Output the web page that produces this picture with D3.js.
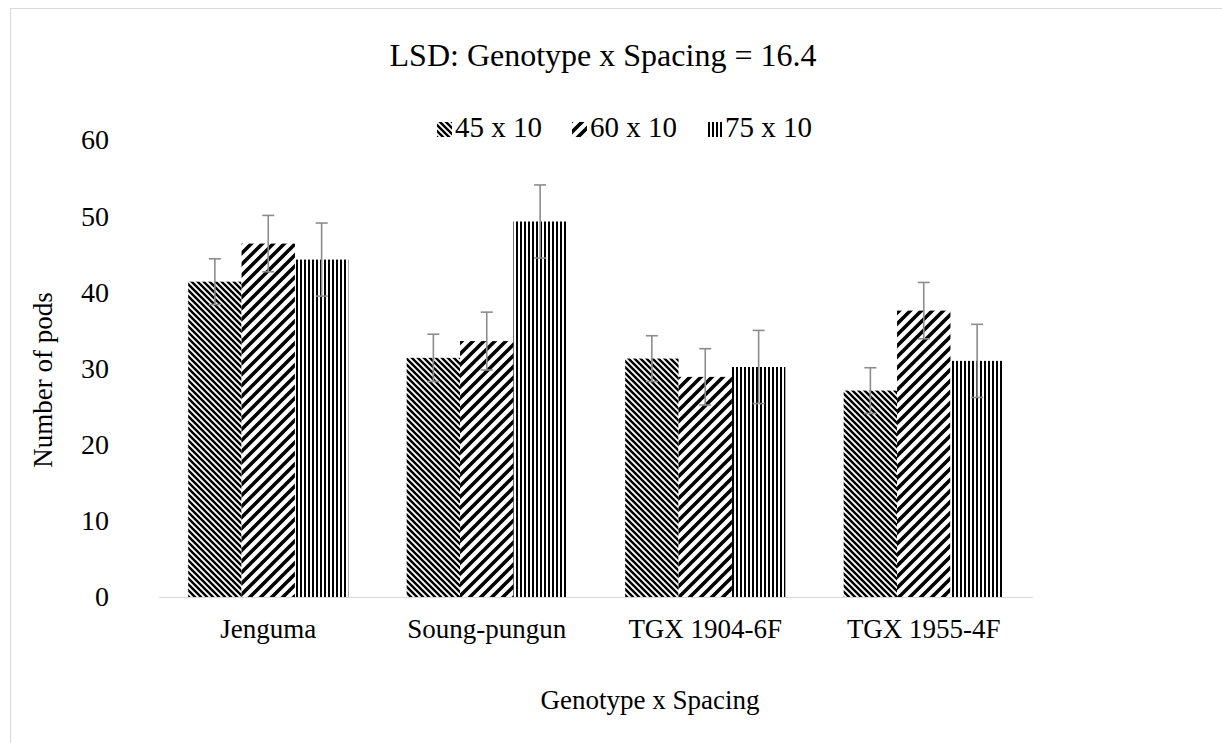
<!DOCTYPE html>
<html><head><meta charset="utf-8">
<script src="https://cdn.jsdelivr.net/npm/d3@7/dist/d3.min.js"></script>
<style>body{margin:0;background:#fff}svg{display:block}</style>
</head><body><svg id="c" width="1222" height="743"></svg>
<script>
const categories = ["Jenguma", "Soung-pungun", "TGX 1904-6F", "TGX 1955-4F"];
const seriesNames = ["45 x 10", "60 x 10", "75 x 10"];
const s45 = [41.4, 31.4, 31.3, 27.1];
const s60 = [46.4, 33.6, 28.9, 37.6];
const s75 = [44.3, 49.3, 30.2, 31.0];
const e45 = [3.0, 3.1, 3.0, 3.0];
const e60 = [3.7, 3.8, 3.7, 3.7];
const e75 = [4.8, 4.8, 4.8, 4.8];
const yTicks = [0, 10, 20, 30, 40, 50, 60];
const titleText = "LSD: Genotype x Spacing = 16.4";
const xTitle = "Genotype x Spacing";
const yTitle = "Number of pods";

const FF = "'Liberation Serif', 'Times New Roman', serif";
const values = [s45, s60, s75];
const errs = [e45, e60, e75];
const svg = d3.select("#c");
const defs = svg.append("defs");
const patIds = ["p45", "p60", "p75"];
let p = defs.append("pattern").attr("id","p45").attr("patternUnits","userSpaceOnUse").attr("width",6).attr("height",6);
p.append("rect").attr("width",6).attr("height",6).attr("fill","#fff");
p.append("path").attr("d","M-1,-1 L7,7 M-1,5 L1,7 M5,-1 L7,1").attr("stroke","#000").attr("stroke-width",2.4);
p = defs.append("pattern").attr("id","p60").attr("patternUnits","userSpaceOnUse").attr("width",11).attr("height",11);
p.append("rect").attr("width",11).attr("height",11).attr("fill","#fff");
p.append("path").attr("d","M-1,12 L12,-1 M-2,2 L2,-2 M9,13 L13,9").attr("stroke","#000").attr("stroke-width",3.6);
p = defs.append("pattern").attr("id","p75").attr("patternUnits","userSpaceOnUse").attr("width",4).attr("height",4);
p.append("rect").attr("width",4).attr("height",4).attr("fill","#fff");
p.append("rect").attr("width",2).attr("height",4).attr("fill","#000");

svg.append("rect").attr("x",10.5).attr("y",8.5).attr("width",1240).attr("height",760).attr("fill","none").attr("stroke","#d9d9d9").attr("stroke-width",1);

const pL = 159, pR = 1033, pT = 140, pB = 597;
const x0 = d3.scaleBand().domain(categories).range([pL, pR]).paddingInner(0.267).paddingOuter(0.1335);
const x1 = d3.scaleBand().domain(d3.range(3)).range([0, x0.bandwidth()]);
const y = d3.scaleLinear().domain([0, 60]).range([pB, pT]);

const yAxis = d3.axisLeft(y).tickValues(yTicks).tickSize(0).tickPadding(0);
const ya = svg.append("g").attr("transform","translate(109,0)").call(yAxis);
ya.select(".domain").remove();
ya.selectAll("text").attr("font-size",28).attr("font-family",FF).attr("fill","#000").attr("text-anchor","end").attr("x",0);

values.forEach((vals, si) => {
  svg.append("g").selectAll("rect").data(categories).join("rect")
    .attr("x", (c) => x0(c) + x1(si))
    .attr("y", (c,i) => y(vals[i]))
    .attr("width", x1.bandwidth())
    .attr("height", (c,i) => y(0) - y(vals[i]))
    .attr("fill", `url(#${patIds[si]})`);
});
svg.append("line").attr("x1",pL).attr("x2",pR).attr("y1",y(0)+0.5).attr("y2",y(0)+0.5).attr("stroke","#d9d9d9").attr("stroke-width",1.2);

values.forEach((vals, si) => {
  const g = svg.append("g").attr("stroke","#8c8c8c").attr("stroke-width",1.6);
  categories.forEach((c, i) => {
    const cx = x0(c) + x1(si) + x1.bandwidth()/2;
    const hi = y(vals[i] + errs[si][i]), lo = y(vals[i] - errs[si][i]);
    g.append("line").attr("x1",cx).attr("x2",cx).attr("y1",hi).attr("y2",lo);
    g.append("line").attr("x1",cx-6).attr("x2",cx+6).attr("y1",hi).attr("y2",hi);
    g.append("line").attr("x1",cx-6).attr("x2",cx+6).attr("y1",lo).attr("y2",lo);
  });
});

const xAxis = d3.axisBottom(x0).tickSize(0).tickPadding(0);
const xa = svg.append("g").attr("transform","translate(0,638)").call(xAxis);
xa.select(".domain").remove();
xa.selectAll("text").attr("font-size",27).attr("font-family",FF).attr("fill","#000").attr("dy",0);

svg.append("text").attr("x",603).attr("y",66).attr("text-anchor","middle").attr("font-size",32).attr("font-family",FF).text(titleText);
svg.append("text").attr("x",650).attr("y",709).attr("text-anchor","middle").attr("font-size",27).attr("font-family",FF).text(xTitle);
svg.append("text").attr("transform","translate(52,380) rotate(-90)").attr("text-anchor","middle").attr("font-size",27).attr("font-family",FF).text(yTitle);

const legX = [437, 572, 707];
const lg = svg.append("g");
seriesNames.forEach((n, i) => {
  lg.append("rect").attr("x",legX[i]).attr("y",122).attr("width",15).attr("height",15).attr("fill",`url(#${patIds[i]})`);
  lg.append("text").attr("x",legX[i]+18).attr("y",137).attr("font-size",29).attr("font-family",FF).text(n);
});
</script></body></html>
